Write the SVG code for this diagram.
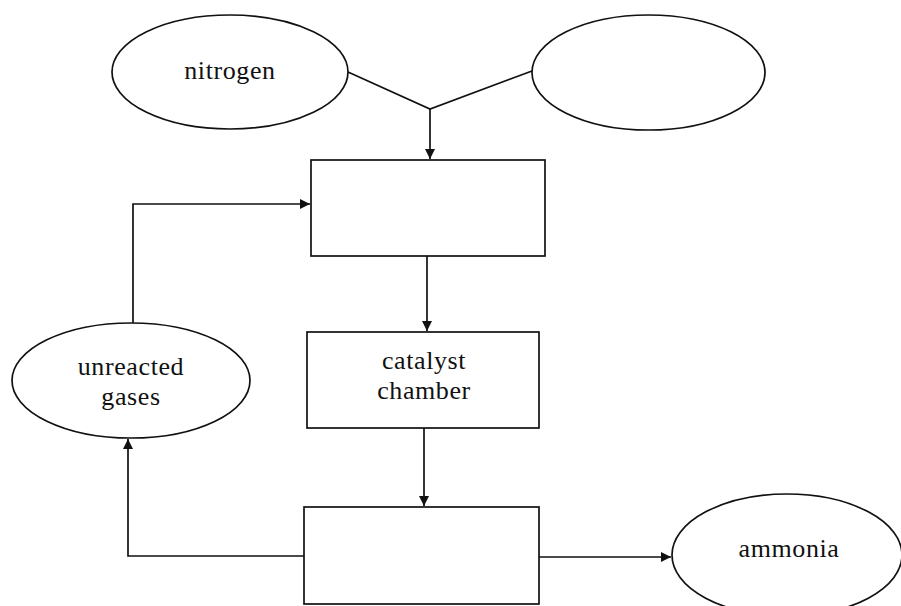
<svg xmlns="http://www.w3.org/2000/svg" width="901" height="606" viewBox="0 0 901 606">
<defs>
<marker id="arr" viewBox="0 0 10 10" refX="10" refY="5" markerWidth="10" markerHeight="10" markerUnits="userSpaceOnUse" orient="auto">
<path d="M0,0 L10,5 L0,10 Z" fill="#111"/>
</marker>
</defs>
<style>
.shape{fill:#fff;stroke:#111;stroke-width:1.7}
.conn{fill:none;stroke:#111;stroke-width:1.7}
.lbl{font-size:26px;fill:#111;text-anchor:middle;letter-spacing:0.6px}
</style>
<rect width="901" height="606" fill="#fff"/>
<g id="connectors">
<polyline class="conn" points="348,72 430,109 532,71"/>
<line class="conn" x1="430" y1="109" x2="430" y2="159" marker-end="url(#arr)"/>
<polyline class="conn" points="133,323 133,204 310,204" marker-end="url(#arr)"/>
<line class="conn" x1="427" y1="256" x2="427" y2="331" marker-end="url(#arr)"/>
<line class="conn" x1="424" y1="428" x2="424" y2="506" marker-end="url(#arr)"/>
<line class="conn" x1="539" y1="557" x2="671" y2="557" marker-end="url(#arr)"/>
<polyline class="conn" points="304,556 128,556 128,439" marker-end="url(#arr)"/>
</g>
<g id="nitrogen">
<ellipse class="shape" cx="230" cy="72" rx="118" ry="57"/>
<text class="lbl" font-family="Liberation Serif, Times New Roman, serif" x="230" y="79">nitrogen</text>
</g>
<g id="blank-input">
<ellipse class="shape" cx="648.5" cy="72.5" rx="116.5" ry="57.5"/>
</g>
<g id="mixer">
<rect class="shape" x="311" y="160" width="234" height="96"/>
</g>
<g id="catalyst-chamber">
<rect class="shape" x="307" y="332" width="232" height="96"/>
<text class="lbl" font-family="Liberation Serif, Times New Roman, serif" x="424" y="369">catalyst</text>
<text class="lbl" font-family="Liberation Serif, Times New Roman, serif" x="424" y="399">chamber</text>
</g>
<g id="separator">
<rect class="shape" x="304" y="507" width="235" height="97"/>
</g>
<g id="unreacted-gases">
<ellipse class="shape" cx="131" cy="380.5" rx="119" ry="57.5"/>
<text class="lbl" font-family="Liberation Serif, Times New Roman, serif" x="131" y="375">unreacted</text>
<text class="lbl" font-family="Liberation Serif, Times New Roman, serif" x="131" y="405">gases</text>
</g>
<g id="ammonia">
<ellipse class="shape" cx="787" cy="555" rx="115" ry="61"/>
<text class="lbl" font-family="Liberation Serif, Times New Roman, serif" x="789" y="557">ammonia</text>
</g>
</svg>
